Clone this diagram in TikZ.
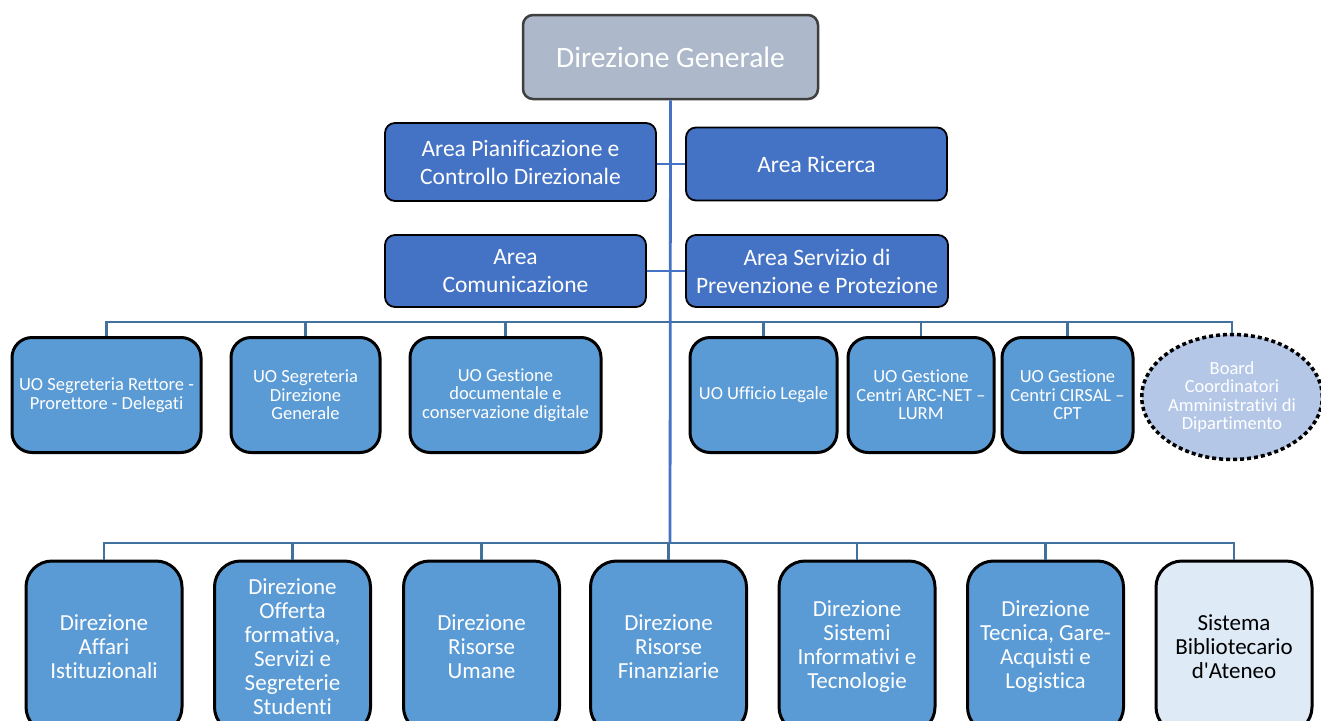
\documentclass[tikz,border=0pt]{standalone}
\usepackage{fontspec}
\setmainfont{Carlito}[Ligatures=NoCommon]
\usetikzlibrary{shapes.geometric}
\definecolor{topfill}{HTML}{ADB9CA}
\definecolor{topdraw}{HTML}{3F3F3F}
\definecolor{areafill}{HTML}{4472C4}
\definecolor{uofill}{HTML}{5B9BD5}
\definecolor{boardfill}{HTML}{B4C7E7}
\definecolor{sbafill}{HTML}{DEEBF7}
\definecolor{trunkcol}{HTML}{4472C4}
\definecolor{buscol}{HTML}{41719C}
\tikzset{
   top/.style={draw=topdraw, line width=2.5pt, fill=topfill, rounded corners=10pt,
      text=white, align=center, inner sep=0pt, font=\fontsize{29.5}{32}\selectfont},
   area/.style={draw=black, line width=1.8pt, fill=areafill, rounded corners=10pt,
      text=white, align=center, inner sep=0pt, font=\fontsize{23.5}{28}\selectfont},
   uo/.style={draw=black, line width=3pt, fill=uofill, rounded corners=20pt,
      text=white, align=center, inner sep=0pt, minimum height=115pt,
      font=\fontsize{18.5}{18.5}\selectfont},
   board/.style={ellipse, draw=black, line width=3.5pt, dash pattern=on 4pt off 3pt,
      fill=boardfill, text=white, align=center, inner sep=0pt,
      font=\fontsize{18.5}{18.5}\selectfont},
   dir/.style={draw=black, line width=3pt, fill=uofill, rounded corners=26pt,
      text=white, align=center, inner sep=0pt, minimum width=156pt, minimum height=172pt,
      font=\fontsize{23}{24}\selectfont},
   trunk/.style={draw=trunkcol, line width=2.8pt},
   bus/.style={draw=buscol, line width=2.2pt},
}
\begin{document}
\begin{tikzpicture}[x=1pt, y=-1pt]
   \useasboundingbox[fill=white] (0,0) rectangle (1321,720);
   % vertice
   \node[top, minimum width=295pt, minimum height=84pt] (dg) at (670.5,57) {Direzione Generale};
   % aree di staff
   \node[area, minimum width=271pt, minimum height=78pt] (apc) at (520.5,162) {Area Pianificazione e\\Controllo Direzionale};
   \node[area, minimum width=261pt, minimum height=73pt] (ar) at (816.5,164) {Area Ricerca};
   \node[area, minimum width=261pt, minimum height=72pt] (acom) at (515.5,271) {Area\\Comunicazione};
   \node[area, minimum width=262pt, minimum height=72pt] (aspp) at (817,271) {Area Servizio di\\Prevenzione e Protezione};
   % unita' organizzative
   \node[uo, minimum width=189pt] (uo1) at (106.5,395) {UO Segreteria Rettore -\\Prorettore - Delegati};
   \node[uo, minimum width=149pt] (uo2) at (305.5,395) {UO Segreteria\\Direzione\\Generale};
   \node[uo, minimum width=191pt] (uo3) at (505.5,395) {UO Gestione\\documentale e\\conservazione digitale};
   \node[uo, minimum width=147pt] (uo4) at (763.5,395) {UO Ufficio Legale};
   \node[uo, minimum width=146pt] (uo5) at (921,395) {UO Gestione\\Centri ARC-NET --\\LURM};
   \node[uo, minimum width=131pt] (uo6) at (1067.5,395) {UO Gestione\\Centri CIRSAL --\\CPT};
   \node[board, minimum width=176pt, minimum height=125pt] (bca) at (1232,397) {Board\\Coordinatori\\Amministrativi di\\Dipartimento};
   % direzioni
   \node[dir] (d1) at (104,647) {Direzione\\Affari\\Istituzionali};
   \node[dir] (d2) at (292.5,647) {Direzione\\Offerta\\formativa,\\Servizi e\\Segreterie\\Studenti};
   \node[dir] (d3) at (481.5,647) {Direzione\\Risorse\\Umane};
   \node[dir] (d4) at (668.5,647) {Direzione\\Risorse\\Finanziarie};
   \node[dir] (d5) at (857,647) {Direzione\\Sistemi\\Informativi e\\Tecnologie};
   \node[dir] (d6) at (1045.5,647) {Direzione\\Tecnica, Gare-\\Acquisti e\\Logistica};
   \node[dir, fill=sbafill, text=black] (d7) at (1234,647) {Sistema\\Bibliotecario\\d\textquotesingle Ateneo};
   % collegamenti
   \coordinate (bu) at (670,322);
   \coordinate (bd) at (670,543);
   \draw[bus] (uo1.north) |- (bu) -| (bca.north);
   \foreach \n in {uo2,uo3,uo4,uo5,uo6}
      \draw[bus] (\n.north) -- (\n.north |- bu);
   \draw[bus] (d1.north) |- (bd) -| (d7.north);
   \foreach \n in {d2,d3,d4,d5,d6}
      \draw[bus] (\n.north) -- (\n.north |- bd);
   \draw[trunk] (dg.south) -- (bd);
   \draw[trunk] (apc.east |- ar.west) -- (ar.west);
   \draw[trunk] (acom.east) -- (aspp.west);
\end{tikzpicture}
\end{document}
